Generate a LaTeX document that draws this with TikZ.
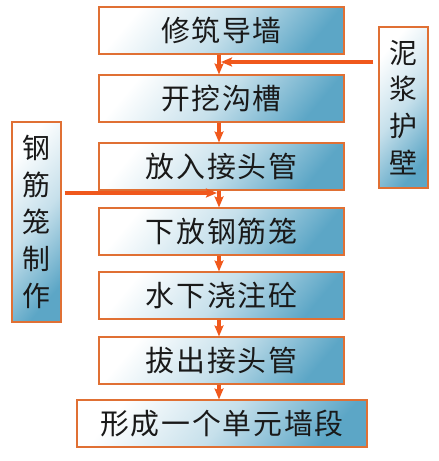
\documentclass[tikz,border=0pt]{standalone}
\usepackage{fontspec}
\newfontfamily\cjk[LetterSpace=6]{Noto Sans CJK SC}
\newfontfamily\cjkv{Noto Sans CJK SC}
\usetikzlibrary{arrows.meta,calc}
\definecolor{bordc}{RGB}{224,112,52}
\definecolor{arrc}{RGB}{240,88,28}
\definecolor{boxblue}{RGB}{92,166,198}
\begin{document}
\begin{tikzpicture}[x=1bp,y=-1bp,
  stepbox/.style={draw=bordc, line width=1.1bp, rectangle, inner sep=0pt,
    top color=white, bottom color=boxblue, middle color=boxblue!35!white, shading angle=50,
    minimum height=47bp, font=\cjk\fontsize{29}{34}\selectfont, text=black!90},
  sidebox/.style={draw=bordc, line width=1.1bp, rectangle, inner sep=0pt,
    top color=white, bottom color=boxblue, middle color=boxblue!35!white, shading angle=50,
    minimum width=49bp, align=center, font=\cjkv\fontsize{28}{37}\selectfont, text=black!90},
  arr/.style={draw=arrc, line width=3.2bp, -{Stealth[length=11bp,width=9bp,inset=2bp]}}]
\useasboundingbox (0,0) rectangle (439,461);
\node[stepbox, minimum width=245bp] (b1) at (221.5,30.5) {修筑导墙};
\node[stepbox, minimum width=245bp] (b2) at (221.5,98.5) {开挖沟槽};
\node[stepbox, minimum width=245bp] (b3) at (221.5,166.5) {放入接头管};
\node[stepbox, minimum width=245bp] (b4) at (221.5,231.5) {下放钢筋笼};
\node[stepbox, minimum width=245bp] (b5) at (221.5,295.5) {水下浇注砼};
\node[stepbox, minimum width=245bp] (b6) at (221.5,360.5) {拔出接头管};
\node[stepbox, minimum width=290bp] (b7) at (222,423.5) {形成一个单元墙段};
\node[sidebox, minimum height=161bp] (rb) at (403.5,107.5) {泥\\浆\\护\\壁};
\node[sidebox, minimum height=200bp] (lb) at (36.5,222) {钢\\筋\\笼\\制\\作};
\coordinate (ax) at (219,0);
\coordinate (ry) at (0,62);
\coordinate (ly) at (0,193);
\draw[arr] (b1.south -| ax) -- (b2.north -| ax);
\draw[arr] (b2.south -| ax) -- (b3.north -| ax);
\draw[arr] (b3.south -| ax) -- (b4.north -| ax);
\draw[arr] (b4.south -| ax) -- (b5.north -| ax);
\draw[arr] (b5.south -| ax) -- (b6.north -| ax);
\draw[arr] (b6.south -| ax) -- (b7.north -| ax);
\draw[arr] ([xshift=-5bp]rb.west |- ry) -- ([xshift=2bp]ax |- ry);
\draw[arr] ([xshift=3bp]lb.east |- ly) -- ([xshift=-2bp]ax |- ly);
\end{tikzpicture}
\end{document}
